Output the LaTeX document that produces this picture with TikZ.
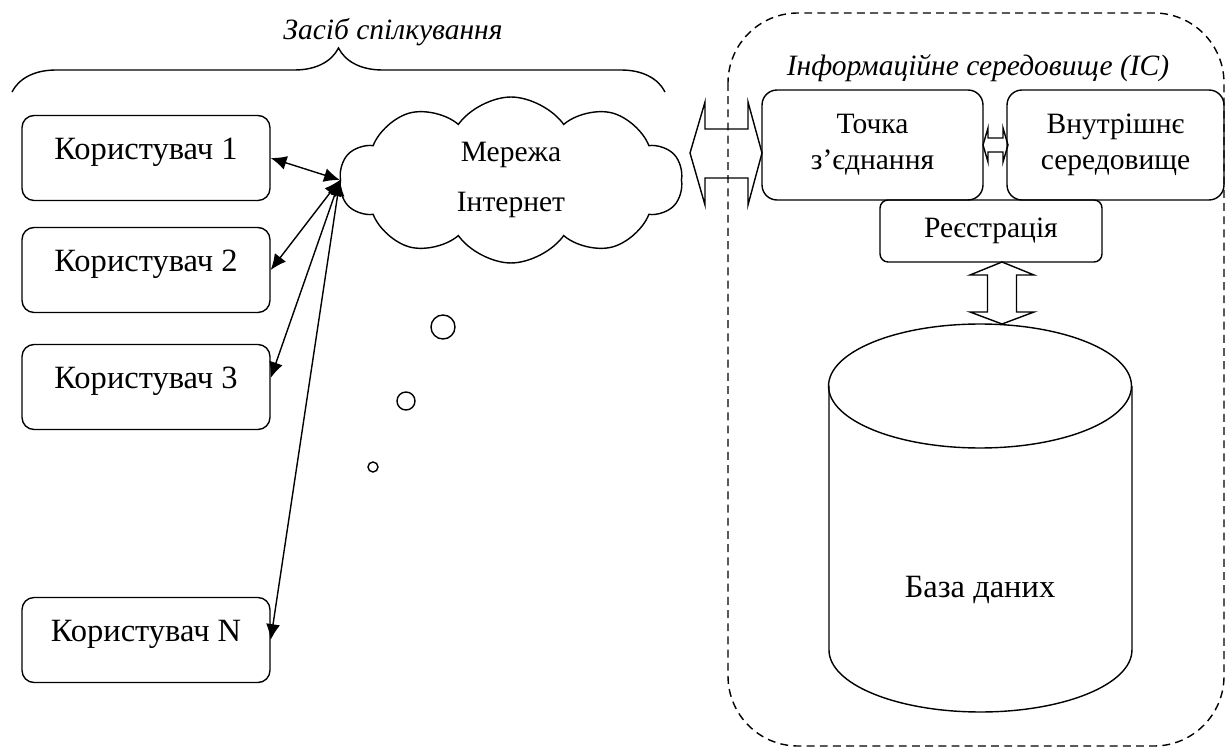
\documentclass[tikz,border=0pt]{standalone}
\usepackage{fontspec}
\setmainfont{Liberation Serif}
\usetikzlibrary{shapes.symbols,arrows.meta,decorations.pathreplacing}

\begin{document}
\begin{tikzpicture}[x=0.02cm,y=-0.02cm,thick,
    font=\fontsize{16.8}{20.5}\selectfont,
    userbox/.style={draw,rounded corners=0.24cm,minimum width=4.96cm,minimum height=1.7cm,
      font=\fontsize{18.5}{22}\selectfont,text height=0.68em,text depth=0.49em,inner sep=0pt},
    icbox/.style={draw,rounded corners=0.3cm,align=center,inner sep=0pt},
    link/.style={{Latex[length=9pt,width=8pt]}-{Latex[length=9pt,width=8pt]}}]
        \useasboundingbox (0,0) rectangle (1226,749);

        % 用户
        \node[userbox] (u1) at (146,158) {Користувач 1};
        \node[userbox] (u2) at (146,270) {Користувач 2};
        \node[userbox] (u3) at (146,387) {Користувач 3};
        \node[userbox] (uN) at (146,640) {Користувач N};

        % 网络云
        \node[cloud,draw,cloud puffs=10,cloud puff arc=110,aspect=2.07,
          minimum width=6.86cm,minimum height=3.32cm,inner sep=0pt,align=center]
          (net) at (511,180) {Мережа\\[8pt]Інтернет};
        \draw (443,327) circle[radius=0.24cm];
        \draw (406,401) circle[radius=0.18cm];
        \draw (373,467) circle[radius=0.1cm];

        % 连线
        \draw[link] (net.west) -- (u1.east);
        \draw[link] (net.west) -- (u2.east);
        \draw[link] (net.west) -- ([yshift=0.18cm]u3.east);
        \draw[link] (net.west) -- (uN.east);

        % 大括号
        \draw[decorate,decoration={brace,amplitude=0.88cm}] (12,92) -- (665,92);
        \node (means) at (393,32) {\itshape Засіб спілкування};

        % 信息环境
        \draw[dash pattern=on 4.5pt off 3pt,rounded corners=1.4cm] (728,13) rectangle (1224,746);
        \node (iclabel) at (978,68) {\itshape Інформаційне середовище (ІС)};

        \node[icbox,minimum width=4.42cm,minimum height=2.2cm] (point) at (872.5,145) {Точка\\з’єднання};
        \node[icbox,minimum width=4.34cm,minimum height=2.2cm] (inner) at (1115.5,145) {Внутрішнє\\середовище};
        \node[icbox,rounded corners=0.16cm,minimum width=4.44cm,minimum height=1.24cm] (reg) at (991,231) {Реєстрація};

        % 数据库
        \draw (980,386) ellipse [x radius=3.03cm,y radius=1.24cm];
        \draw (829,386) -- (829,650) arc[start angle=180,end angle=360,x radius=3.03cm,y radius=1.24cm] -- (1132,386);
        \node[font=\fontsize{18.5}{22}\selectfont] (db) at (980,590) {База даних};

        % 空心双向箭头
        \draw (690,153) -- (705,102) -- (705,129) -- (748,129) -- (748,102) -- (762,153)
          -- (748,205) -- (748,178) -- (705,178) -- (705,205) -- cycle;
        \draw (983,145) -- (988,128) -- (988,138) -- (1003,138) -- (1003,128) -- (1008,145)
          -- (1003,162) -- (1003,152) -- (988,152) -- (988,162) -- cycle;
        \draw (1002,262) -- (1034,275) -- (1016.5,275) -- (1016.5,312) -- (1034,312) -- (1002,324)
          -- (970,312) -- (987.5,312) -- (987.5,275) -- (970,275) -- cycle;
      \end{tikzpicture}
\end{document}
